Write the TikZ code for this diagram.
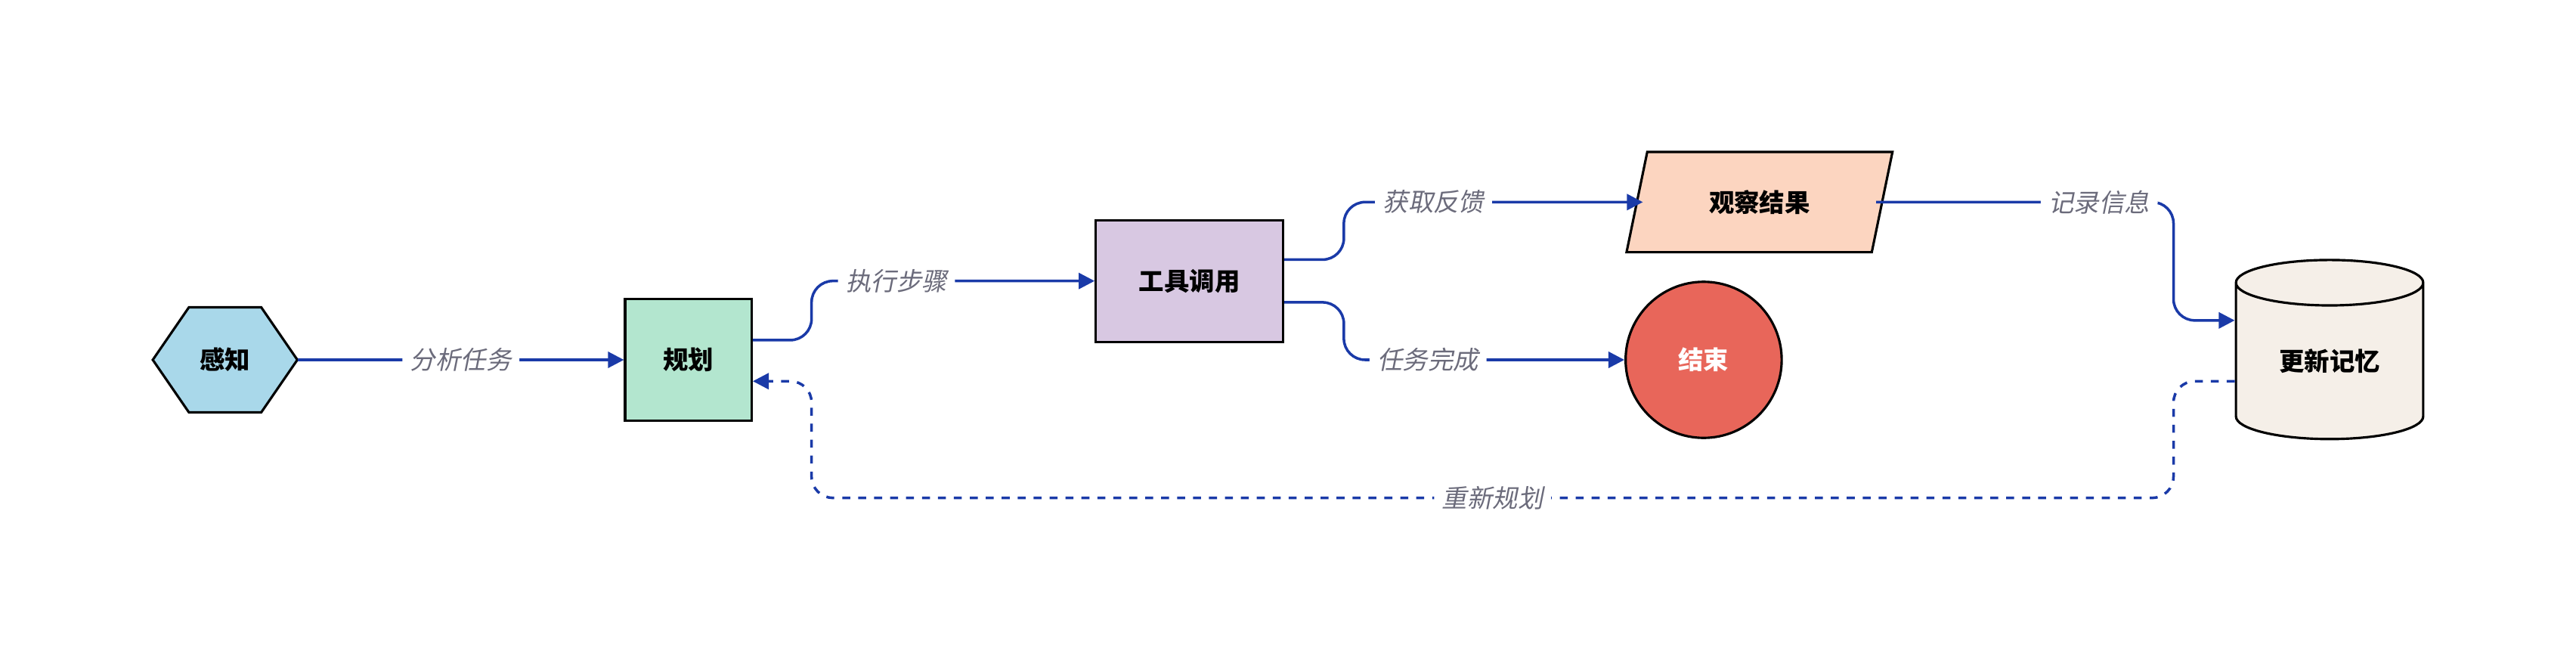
\documentclass[tikz,border=0pt]{standalone}
\usepackage{fontspec}
\setmainfont{Noto Sans CJK SC}
\newfontfamily\lblfont[FakeSlant=0.2]{Noto Sans CJK SC}
\usetikzlibrary{shapes.geometric,positioning,arrows.meta}
\definecolor{flow}{HTML}{1A3AA8}
\definecolor{lbl}{HTML}{6B6B7B}
\definecolor{hexfill}{HTML}{A9D8EA}
\tikzset{
  box/.style={draw, line width=0.9pt, font=\fontsize{9.5}{11}\selectfont\bfseries, inner sep=0pt},
  link/.style={draw=flow, line width=1pt, rounded corners=8pt, -{Triangle[length=6pt,width=6pt]}},
  tag/.style={fill=white, text=lbl, font=\fontsize{9.5}{11}\selectfont\lblfont, inner sep=3pt}
}
\begin{document}
\begin{tikzpicture}[x=0.021735cm, y=-0.021735cm]
  \useasboundingbox (0,0) rectangle (1568,405);
  % hexagon
  \filldraw[fill=hexfill, line width=0.9pt]
    (93,219) -- (115,187) -- (159,187) -- (181,219) -- (159,251) -- (115,251) -- cycle;
  \node[font=\fontsize{9.5}{11}\selectfont\bfseries, minimum width=88*0.021735cm, minimum height=64*0.021735cm] (sense) at (137,219) {感知};
  \node[box, fill={rgb,255:red,179;green,230;blue,207}, minimum width=77*0.021735cm, minimum height=74*0.021735cm] (plan) at (419,219) {规划};
  \node[box, fill={rgb,255:red,216;green,200;blue,226}, minimum width=114*0.021735cm, minimum height=74*0.021735cm] (tool) at (724,171) {工具调用};
  \node[box, trapezium, trapezium left angle=69, trapezium right angle=111, fill={rgb,255:red,252;green,213;blue,192}, minimum width=162*0.021735cm, minimum height=61*0.021735cm, trapezium stretches=true] (obs) at (1071,123) {观察结果};
  \node[box, circle, fill={rgb,255:red,232;green,102;blue,90}, text=white, minimum size=95*0.021735cm] (done) at (1037,219) {结束};
  \node[box, cylinder, shape border rotate=90, aspect=0.45, fill={rgb,255:red,245;green,239;blue,232}, minimum width=114*0.021735cm, minimum height=109*0.021735cm] (mem) at (1418,220) {更新记忆};

  % connectors
  \draw[link] (sense.east) -- node[tag]{分析任务} (plan.west);
  \draw[link] (plan.east |- 0,207) -- (494,207) -- (494,171) -- node[tag, pos=0.3]{执行步骤} (tool.west);
  \draw[link] (tool.east |- 0,158) -- (818,158) -- (818,123) -- node[tag, pos=0.3]{获取反馈} (1000,123);
  \draw[link] (tool.east |- 0,184) -- (818,184) -- (818,219) -- node[tag, pos=0.3]{任务完成} (done.west);
  \draw[link] (1142,123) -- node[tag, pos=0.75]{记录信息} (1323,123) -- (1323,195) -- (mem.west |- 0,195);
  \draw[link, dashed] (mem.west |- 0,232) -- (1323,232) -- (1323,303) -- node[tag]{重新规划} (494,303) -- (494,232) -- (plan.east |- 0,232);
\end{tikzpicture}
\end{document}
